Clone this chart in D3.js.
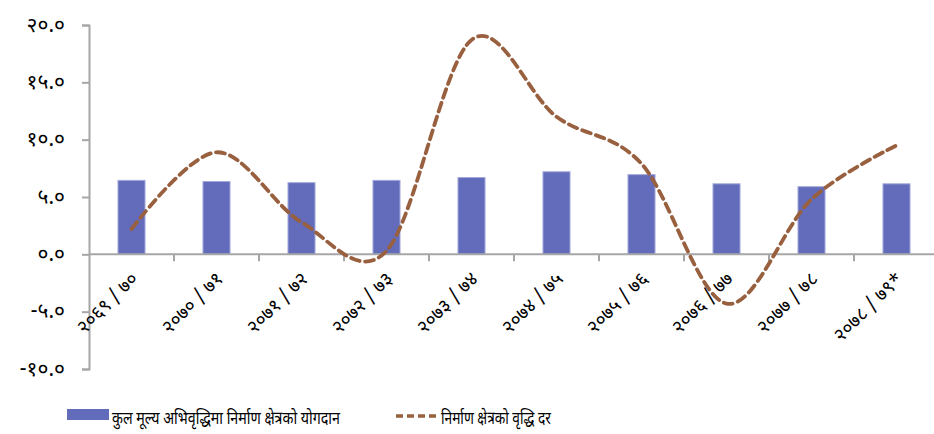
<!DOCTYPE html>
<html>
<head>
<meta charset="utf-8">
<script src="https://cdn.jsdelivr.net/npm/d3@7"></script>
<style>
  html, body { margin: 0; padding: 0; background: #fff; }
  svg { display: block; }
  text { font-family: "Noto Sans Devanagari", "Lohit Devanagari", "Mangal", "Noto Sans", sans-serif; fill: #000; }
</style>
</head>
<body>
<svg id="chart" width="934" height="434"></svg>
<script>
const categories = ["२०६९/७०", "२०७०/७१", "२०७१/७२", "२०७२/७३", "२०७३/७४", "२०७४/७५", "२०७५/७६", "२०७६/७७", "२०७७/७८", "२०७८/७९*"];
const contributionValues = [6.45, 6.35, 6.25, 6.45, 6.7, 7.2, 6.95, 6.15, 5.9, 6.15];
const growthValues = [2.2, 8.9, 2.8, 0.3, 18.7, 12.0, 7.9, -4.3, 4.8, 9.5];
const yTickValues = [-10, -5, 0, 5, 10, 15, 20];
const yTickLabels = ["-१०.०", "-५.०", "०.०", "५.०", "१०.०", "१५.०", "२०.०"];
const legendLabels = ["कुल मूल्य अभिवृद्धिमा निर्माण क्षेत्रको योगदान", "निर्माण क्षेत्रको वृद्धि दर"];

const svg = d3.select("#chart");
const axisColor = "#a6a6a6";
const barColor = "#636bbb";
const lineColor = "#98603f";

const x = d3.scaleBand().domain(categories).range([89, 939]).paddingInner(0.682).paddingOuter(0.341);
const y = d3.scaleLinear().domain([-10, 20]).range([369, 25]);

// Y axis
const yAxis = d3.axisLeft(y).tickValues(yTickValues)
  .tickFormat((d, i) => yTickLabels[i]).tickSize(7).tickPadding(17);
const gy = svg.append("g").attr("transform", "translate(89,0)").call(yAxis);
gy.select(".domain").attr("stroke", axisColor).attr("stroke-width", 2);
gy.selectAll(".tick line").attr("stroke", axisColor).attr("stroke-width", 2);
gy.selectAll(".tick text").style("font-size", "21px").attr("dy", "0.3em");

// Bars
svg.append("g").selectAll("rect").data(categories).join("rect")
  .attr("x", d => x(d))
  .attr("width", x.bandwidth())
  .attr("y", (d, i) => y(contributionValues[i]))
  .attr("height", (d, i) => y(0) - y(contributionValues[i]))
  .attr("fill", barColor)
  .attr("stroke", "#a3a8da")
  .attr("stroke-width", 1);

// X axis
const y0 = y(0);
const step = x.step();
const gx = svg.append("g");
gx.append("line").attr("x1", 89).attr("x2", 934).attr("y1", y0).attr("y2", y0)
  .attr("stroke", axisColor).attr("stroke-width", 2);
const boundaries = categories.map(c => x(c) + x.bandwidth() / 2 + step / 2);
gx.selectAll("line.tk").data(boundaries).join("line").attr("class", "tk")
  .attr("x1", d => d).attr("x2", d => d).attr("y1", y0).attr("y2", y0 + 7)
  .attr("stroke", axisColor).attr("stroke-width", 2);
gx.selectAll("text").data(categories).join("text")
  .attr("transform", d => `translate(${x(d) + x.bandwidth() / 2 + 3},${y0 + 21}) rotate(-45)`)
  .attr("text-anchor", "end")
  .attr("dy", "0.35em")
  .style("font-size", "19px")
  .text(d => d.replace("/", " / "));

// Line
const line = d3.line()
  .x((d, i) => x(categories[i]) + x.bandwidth() / 2)
  .y(d => y(d))
  .curve(d3.curveCardinal.tension(0));
svg.append("path").datum(growthValues)
  .attr("d", line)
  .attr("fill", "none")
  .attr("stroke", lineColor)
  .attr("stroke-width", 3.8)
  .attr("stroke-dasharray", "9,5.5")
  .attr("stroke-linecap", "round");

// Legend
const lg = svg.append("g");
lg.append("rect").attr("x", 67).attr("y", 409).attr("width", 42).attr("height", 11).attr("fill", barColor);
lg.append("line").attr("x1", 396).attr("x2", 437).attr("y1", 416).attr("y2", 416)
  .attr("stroke", lineColor).attr("stroke-width", 3.5).attr("stroke-dasharray", "7,4");

function fitText(xPos, yPos, label, targetWidth) {
  const t = lg.append("text").attr("x", 0).attr("y", 0).style("font-size", "18px").text(label);
  const w = t.node().getComputedTextLength();
  const s = Math.min(1, targetWidth / w);
  t.attr("transform", `translate(${xPos},${yPos}) scale(${s},1)`);
}
fitText(112, 424, legendLabels[0], 228);
fitText(441, 424, legendLabels[1], 110);
</script>
</body>
</html>
